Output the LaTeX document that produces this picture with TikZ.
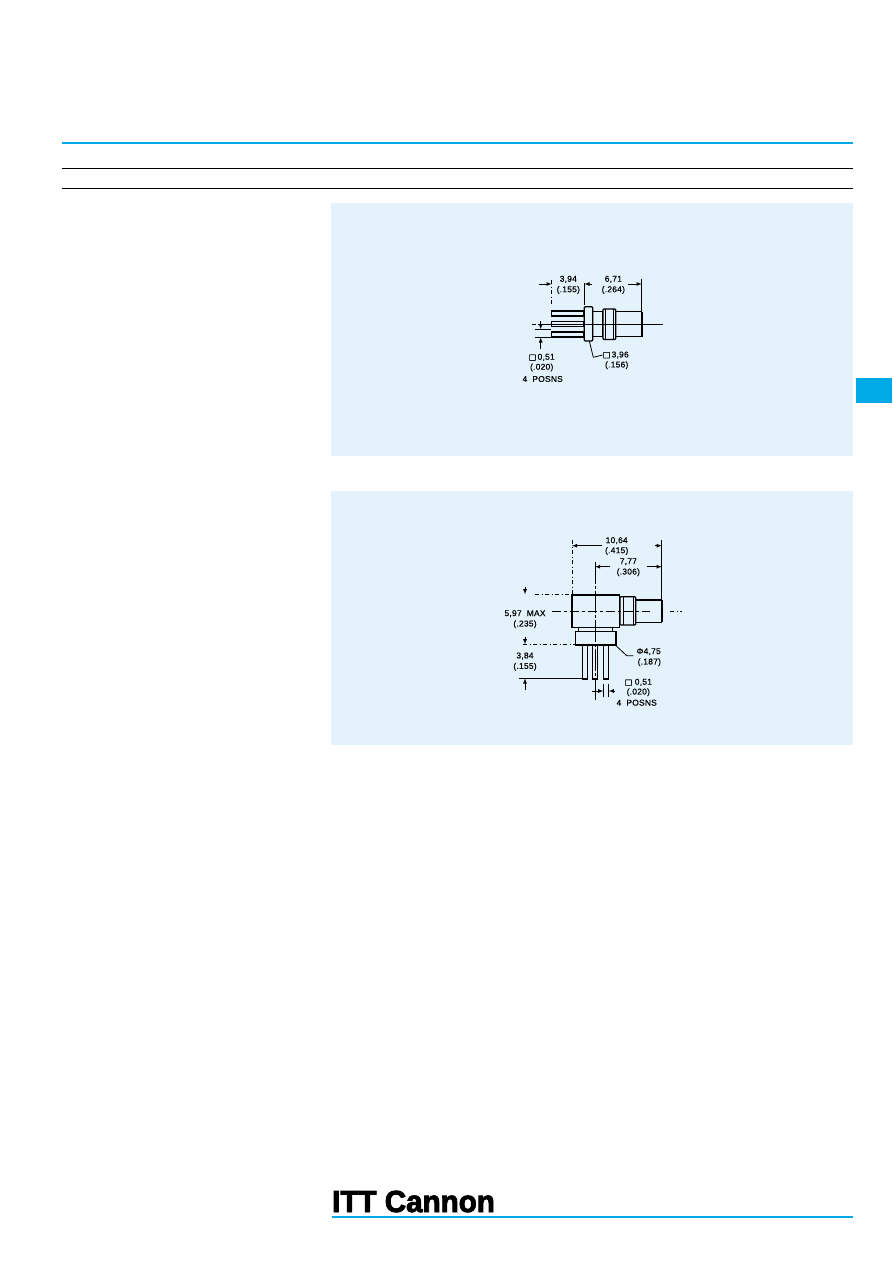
\documentclass[tikz,border=0pt]{standalone}
\usepackage{fontspec}
\setmainfont[FakeBold=.5,LetterSpace=3]{Liberation Sans}
\newfontfamily\symfont[FakeBold=1]{DejaVu Sans}
\newfontfamily\logofont[FakeBold=3]{Liberation Sans Bold}
\usepackage{color}
\definecolor{panelblue}{RGB}{227,242,251}
\definecolor{rulecyan}{RGB}{0,170,230}
\tikzset{
  part/.style={line width=1.3pt, fill=panelblue},
  thin part/.style={line width=.8pt},
  dimline/.style={line width=.8pt},
  dotline/.style={line width=.8pt, dash pattern=on 4pt off 2.5pt on 1pt off 2.5pt},
  dimarrow/.style={line width=.8pt, -latex},
  dimtext/.style={font=\fontsize{8.4}{9}\selectfont, inner sep=0pt, text=black},
  panel/.style={fill=panelblue, draw=none}
}
\newcommand{\sq}{{\symfont\fontsize{8}{9}\selectfont □}}

\begin{document}
\begin{tikzpicture}[x=1pt, y=-1pt]
    \useasboundingbox[fill=white] (0,0) rectangle (892,1263);

    % page rules and tab
    \draw[rulecyan, line width=1.6pt] (62,143) -- (853,143);
    \draw[line width=.9pt] (62,168.5) -- (853,168.5);
    \draw[line width=1.8pt] (62,188.5) -- (853,188.5);
    \fill[rulecyan] (856,378) rectangle (892,403);
    \fill[panel] (331,203) rectangle (853,456);
    \fill[panel] (331,491) rectangle (853,745);

    % straight connector: pins, then body
    \foreach \y in {311,321.5,332}{
      \draw[part] (551.7,\y) rectangle (584,\y+5);
    }
    \draw[part] (592.7,311.7) rectangle (603,336.7);
    \draw[part] (615.7,311.7) rectangle (641.7,336.7);
    \draw[line width=1.8pt] (641.7,311.7) -- (641.7,336.7);
    \draw[part, rounded corners=1pt] (603,309) rectangle (615.7,339.5);
    \draw[thin part] (605.5,309) -- (605.5,339.5);
    \draw[thin part] (613,309) -- (613,339.5);
    \draw[part, rounded corners=1pt] (584.3,306.7) rectangle (592.7,341);
    \draw[dotline] (531.7,324) -- (541,324);
    \draw[dimline] (541,324) -- (663,324);

    % straight connector: dimensions
    \draw[dotline] (551.7,280) -- (551.7,306);
    \draw[dimline] (584.3,283) -- (584.3,305);
    \draw[dimline] (641.7,279) -- (641.7,311);
    \coordinate (a1) at (539,284);
    \coordinate (a2) at (551.7,284);
    \coordinate (a3) at (592,284);
    \coordinate (a4) at (584.3,284);
    \coordinate (a5) at (628,284);
    \coordinate (a6) at (641.7,284);
    \draw[dimarrow] (a1) -- (a2);
    \draw[dimarrow] (a3) -- (a4);
    \draw[dimarrow] (a5) -- (a6);
    \draw[dimline] (535,329.3) -- (551,329.3);
    \draw[dimline] (535,337.3) -- (551,337.3);
    \coordinate (a7) at (540.7,321);
    \coordinate (a8) at (540.7,329.3);
    \coordinate (a9) at (540.7,349);
    \coordinate (a10) at (540.7,337.3);
    \draw[dimarrow] (a7) -- (a8);
    \draw[dimarrow] (a9) -- (a10);
    \coordinate (l1) at (589.3,341);
    \coordinate (l2) at (593.3,357.3);
    \draw[dimline] (l1) -- (l2);
    \node[dimtext] (pinstep) at (568.3,279.3) {3,94};
    \node[dimtext] (pinstepin) at (568.3,290) {(.155)};
    \node[dimtext] (reach) at (613.3,279.3) {6,71};
    \node[dimtext] (reachin) at (613.3,290) {(.264)};
    \node[dimtext] (pinsq) at (541.7,357.3) {\sq\,0,51};
    \node[dimtext] (pinsqin) at (541.7,367.5) {(.020)};
    \node[dimtext] (posns) at (542.7,379) {4\ \ POSNS};
    \node[dimtext] (flange) at (615.7,355) {\sq\,3,96};
    \node[dimtext] (flangein) at (616.7,365.3) {(.156)};
    \draw[dimline] (l2) -- (flange.west);

    % right angle connector: pins, then body
    \foreach \x/\w in {582.7/4.6,592.3/5,603.3/5.4}{
      \draw[part] (\x,645) rectangle (\x+\w,679);
    }
    \draw[part] (578.3,627.7) rectangle (612.7,632);
    \draw[part] (575.3,631.7) rectangle (616,645);
    \draw[part] (635.7,600) rectangle (661.7,622.3);
    \draw[line width=1.8pt] (661.7,600) -- (661.7,622.3);
    \draw[part, rounded corners=1pt] (620,596.7) rectangle (635.7,625);
    \draw[thin part] (623,597) -- (623,625);
    \draw[thin part] (633,597) -- (633,625);
    \draw[part, line width=1.5pt] (572,595) rectangle (619.3,627.7);
    \draw[dimline, dash pattern=on 9pt off 3pt on 3pt off 3pt] (551.7,611) -- (650,611);
    \draw[dotline] (670,611) -- (681.7,611);
    \draw[dimline, dash pattern=on 22pt off 2pt on 3pt off 2pt] (595,561.7) -- (595,700);

    % right angle connector: dimensions
    \draw[dotline] (572,540) -- (572,595);
    \draw[dimline] (661.7,540) -- (661.7,600);
    \coordinate (b1) at (601.7,545.7);
    \coordinate (b2) at (572,545.7);
    \coordinate (b3) at (655,545.7);
    \coordinate (b4) at (661.7,545.7);
    \draw[dimarrow] (b1) -- (b2);
    \draw[dimarrow] (b3) -- (b4);
    \coordinate (b5) at (610,566.7);
    \coordinate (b6) at (595,566.7);
    \coordinate (b7) at (646.7,566.7);
    \coordinate (b8) at (661.7,566.7);
    \draw[dimarrow] (b5) -- (b6);
    \draw[dimarrow] (b7) -- (b8);
    \draw[dotline] (535,594.3) -- (572,594.3);
    \draw[dotline] (523,644.3) -- (575,644.3);
    \draw[dimline] (519,678.3) -- (582.7,678.3);
    \coordinate (c1) at (525,587);
    \coordinate (c2) at (525,594.3);
    \coordinate (c3) at (525,636.7);
    \coordinate (c4) at (525,644.3);
    \coordinate (c5) at (525,690);
    \coordinate (c6) at (525,678.3);
    \draw[dimarrow] (c1) -- (c2);
    \draw[dimarrow] (c3) -- (c4);
    \draw[dimarrow] (c5) -- (c6);
    \draw[dimline] (603.3,684) -- (603.3,697);
    \draw[dimline] (608.7,684) -- (608.7,697);
    \coordinate (c7) at (591.7,691);
    \coordinate (c8) at (603.3,691);
    \coordinate (c9) at (615,691);
    \coordinate (c10) at (608.7,691);
    \draw[dimarrow] (c7) -- (c8);
    \draw[dimarrow] (c9) -- (c10);
    \node[dimtext] (total) at (616.7,540.7) {10,64};
    \node[dimtext] (totalin) at (616.7,551) {(.415)};
    \node[dimtext] (offset) at (628.3,561.7) {7,77};
    \node[dimtext] (offsetin) at (628.3,572.3) {(.306)};
    \node[dimtext] (height) at (525,613.7) {5,97\ \ MAX};
    \node[dimtext] (heightin) at (525,624.3) {(.235)};
    \node[dimtext] (pinlen) at (525,656) {3,84};
    \node[dimtext] (pinlenin) at (525,666.7) {(.155)};
    \node[dimtext] (base) at (648.7,651.7) {Φ4,75};
    \node[dimtext] (basein) at (649.3,662.3) {(.187)};
    \node[dimtext] (pinsqb) at (638.3,682.3) {\sq\ 0,51};
    \node[dimtext] (pinsqbin) at (638.3,692.3) {(.020)};
    \node[dimtext] (posnsb) at (636.7,702.7) {4\ \ POSNS};
    \coordinate (l3) at (616,645.7);
    \coordinate (l4) at (626.7,655.7);
    \draw[dimline] (l3) -- (l4) -- (633.3,655.7);

    % logo
    \node[anchor=south west, inner sep=0pt, font=\logofont\fontsize{30.5}{31}\selectfont, xscale=.97, transform shape] (logo) at (332,1212.5) {ITT Cannon};
    \draw[rulecyan, line width=1.6pt] (332,1217) -- (853,1217);
  \end{tikzpicture}
\end{document}
